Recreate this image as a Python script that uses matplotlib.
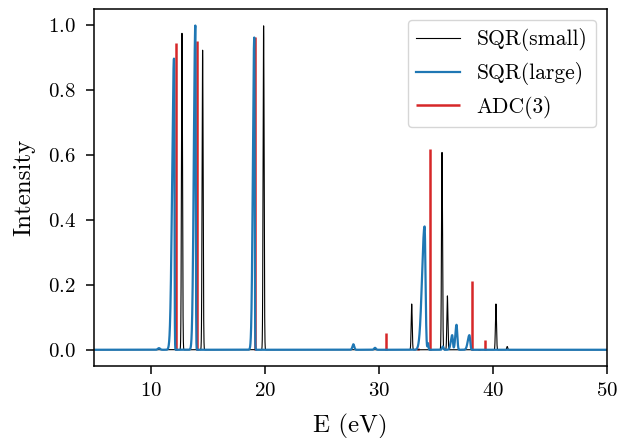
import numpy as np
import matplotlib
matplotlib.use("Agg")
import matplotlib.pyplot as plt

plt.rcParams["font.family"] = "serif"
plt.rcParams["font.serif"] = ["cmr10"]
plt.rcParams["mathtext.fontset"] = "cm"
plt.rcParams["axes.formatter.use_mathtext"] = True

# SQR(small): narrow peaks (energy eV, intensity)
small_E = [12.72, 14.53, 19.88, 32.87, 35.53, 36.00, 40.26, 41.25]
small_I = [0.975, 0.923, 0.998, 0.141, 0.608, 0.166, 0.141, 0.010]
small_w = 0.045

# SQR(large): asymmetric peaks (energy, intensity, left width, right width)
large_E = [10.70, 12.02, 13.89, 19.06, 27.75, 29.65,
           34.00, 34.30, 35.60, 36.42, 36.80, 37.93]
large_I = [0.005, 0.897, 0.999, 0.962, 0.017, 0.006,
           0.380, 0.020, 0.010, 0.045, 0.077, 0.045]
large_wl = [0.10, 0.16, 0.13, 0.12, 0.08, 0.08,
            0.22, 0.04, 0.06, 0.12, 0.10, 0.14]
large_wr = [0.10, 0.035, 0.035, 0.035, 0.08, 0.08,
            0.08, 0.04, 0.06, 0.06, 0.07, 0.07]

# ADC(3): stick spectrum
adc_E = [12.16, 14.07, 19.12, 30.61, 33.45, 34.50, 38.16, 38.80, 39.27]
adc_I = [0.946, 0.952, 0.964, 0.053, 0.005, 0.619, 0.212, 0.003, 0.030]


def broaden(x, centers, heights, wl, wr):
    y = np.zeros_like(x)
    wl = np.broadcast_to(wl, np.shape(centers))
    wr = np.broadcast_to(wr, np.shape(centers))
    for c, h, a, b in zip(centers, heights, wl, wr):
        w = np.where(x < c, a, b)
        y += h * np.exp(-(x - c) ** 2 / (2 * w ** 2))
    return y


x = np.linspace(0, 55, 30000)

fig = plt.figure(figsize=(6.29, 4.38), dpi=100)
ax = fig.add_axes([0.1494, 0.1644, 0.8156, 0.8151])

ax.plot(x, broaden(x, small_E, small_I, small_w, small_w), color="black",
        lw=0.8, zorder=2, label="SQR(small)")
ax.plot(x, broaden(x, large_E, large_I, large_wl, large_wr), color="#1f77b4",
        lw=1.6, zorder=2.5, label="SQR(large)")
ax.vlines(adc_E, 0, adc_I, color="#d62728", lw=1.8, zorder=1.5,
          label="ADC(3)")

ax.set_xlim(5, 50)
ax.set_ylim(-0.05, 1.05)
ax.set_xticks([10, 20, 30, 40, 50])
ax.set_yticks([0.0, 0.2, 0.4, 0.6, 0.8, 1.0])
ax.set_xlabel("E (eV)", fontsize=18, labelpad=10)
ax.set_ylabel("Intensity", fontsize=18, labelpad=9)
ax.tick_params(labelsize=15, length=6, width=1.1)
ax.tick_params(axis="x", pad=5.5)
ax.tick_params(axis="y", pad=7)
for s in ax.spines.values():
    s.set_linewidth(1.1)

ax.legend(loc="upper right", fontsize=15.5)

fig.savefig("out.png", dpi=100)
